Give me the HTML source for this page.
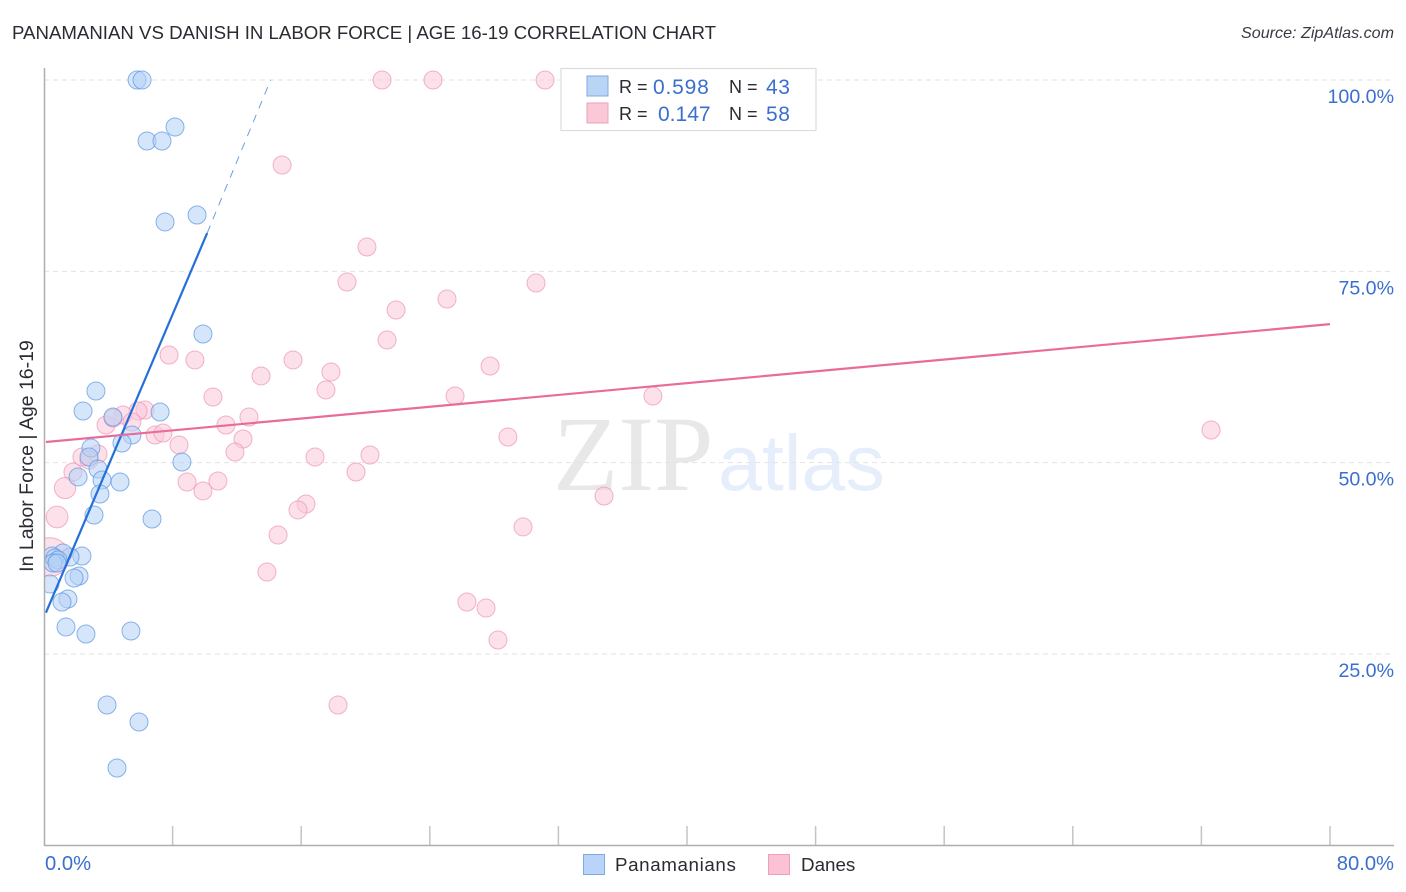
<!DOCTYPE html>
<html lang="en">
<head>
<meta charset="utf-8">
<title>Panamanian vs Danish in Labor Force | Age 16-19 Correlation Chart</title>
<style>
html,body{margin:0;padding:0;background:#fff;width:1406px;height:892px;overflow:hidden}
svg{display:block;font-family:"Liberation Sans",sans-serif}
</style>
</head>
<body>
<svg id="chart" xmlns="http://www.w3.org/2000/svg" width="1406" height="892" viewBox="0 0 1406 892">
  <defs>
    <clipPath id="plot-clip"><rect x="45" y="60" width="1349" height="785"></rect></clipPath>
  </defs>
  <rect x="0" y="0" width="1406" height="892" fill="#ffffff"></rect>

  <text x="12" y="39" font-size="18.65" fill="#2b2b33">PANAMANIAN VS DANISH IN LABOR FORCE | AGE 16-19 CORRELATION CHART</text>
  <text x="1394" y="38" font-size="16.1" font-style="italic" text-anchor="end" fill="#3a3a44">Source: ZipAtlas.com</text>

  <g>
    <text x="553" y="490" font-family="'Liberation Serif',serif" font-size="107" fill="#e8e8e8">ZIP</text>
    <text x="718" y="490" font-size="79" fill="#e6eefb">atlas</text>
  </g>

  <g id="grid"></g>
  <g id="points" clip-path="url(#plot-clip)"></g>
  <g id="trends"></g>

  <line x1="44.5" y1="68" x2="44.5" y2="846" stroke="#aeaeae" stroke-width="1.5"></line>
  <line x1="44" y1="845.5" x2="1394" y2="845.5" stroke="#aeaeae" stroke-width="1.5"></line>
  <g id="xticks"></g>
  <g id="ylabels"></g>
  <g id="xlabels"></g>

  <text transform="translate(33 456) rotate(-90)" font-size="19.5" text-anchor="middle" fill="#2b2b33">In Labor Force | Age 16-19</text>

  <g>
    <rect x="561" y="68.5" width="255" height="62" fill="#ffffff" stroke="#dcdcdc" stroke-width="1.2"></rect>
    <rect x="587" y="76" width="21" height="20" fill="#b9d4f5" stroke="#7eaae2" stroke-width="1"></rect>
    <rect x="587" y="103" width="21" height="20" fill="#fbc8d8" stroke="#eda0b8" stroke-width="1"></rect>
    <text x="619" y="93" font-size="18" fill="#2b2b33">R =</text>
    <text x="653" y="94" font-size="21" letter-spacing="0.8" fill="#3a6fcf">0.598</text>
    <text x="729" y="93" font-size="18" fill="#2b2b33">N =</text>
    <text x="766" y="94" font-size="21" letter-spacing="0.6" fill="#3a6fcf">43</text>
    <text x="619" y="120" font-size="18" fill="#2b2b33">R =</text>
    <text x="658" y="121" font-size="21" fill="#3a6fcf">0.147</text>
    <text x="729" y="120" font-size="18" fill="#2b2b33">N =</text>
    <text x="766" y="121" font-size="21" letter-spacing="0.6" fill="#3a6fcf">58</text>
  </g>

  <g>
    <rect x="583.5" y="854.5" width="21" height="20" fill="#b9d4f8" stroke="#7eaae2" stroke-width="1"></rect>
    <text x="615" y="871" font-size="18.8" letter-spacing="0.6" fill="#2b2b33">Panamanians</text>
    <rect x="768.5" y="854.5" width="21" height="20" fill="#fbc2d6" stroke="#eda0b8" stroke-width="1"></rect>
    <text x="801" y="871" font-size="18.8" fill="#2b2b33">Danes</text>
  </g>
</svg>
<script>
const yTickValues = [25, 50, 75, 100];
const yTickLabels = ["25.0%", "50.0%", "75.0%", "100.0%"];
const xTickValues = [0, 8, 16, 24, 32, 40, 48, 56, 64, 72, 80];
const xEndLabels = ["0.0%", "80.0%"];

const panamaniansX = [5.79,6.10,6.41,7.34,8.15,7.53,9.52,9.89,3.23,2.43,4.29,7.22,5.47,4.85,2.92,2.80,8.58,3.36,3.61,2.12,4.73,3.48,3.11,6.72,2.36,1.62,1.18,0.50,0.68,0.87,0.56,0.81,0.37,2.18,1.87,1.49,1.12,1.37,2.61,5.41,3.92,5.91,4.54];
const panamaniansY = [100,100,92.03,92.03,93.86,81.45,82.36,66.81,59.36,56.75,55.96,56.62,53.61,52.57,51.91,50.74,50.08,49.17,47.73,48.13,47.47,45.90,43.16,42.64,37.80,37.67,38.2,37.8,37.54,37.28,36.89,36.89,34.14,35.19,34.93,32.18,31.79,28.52,27.61,28.0,18.33,16.11,10.10];

const danesX = [21.03,24.20,31.17,14.81,20.09,18.85,30.61,25.07,21.90,21.34,27.75,7.78,9.39,15.49,13.50,17.85,17.54,10.51,25.57,37.88,72.6,12.75,11.32,6.28,5.85,4.91,3.86,5.47,6.91,7.40,8.40,12.38,11.88,28.86,20.28,16.86,19.41,3.36,2.36,2.80,1.80,1.31,8.90,9.89,10.82,34.84,16.30,15.80,14.56,29.80,0.81,13.87,26.31,27.5,28.24,18.29,0.37,4.29];
const danesY = [100,100,100,88.89,78.18,73.6,73.47,71.38,69.95,66.03,62.63,64.07,63.42,63.42,61.33,61.85,59.5,58.58,58.71,58.71,54.27,55.96,54.92,56.88,56.75,56.23,54.92,55.31,53.61,53.87,52.31,53.09,51.39,53.35,51.0,50.74,48.78,51.13,50.74,50.35,48.78,46.69,47.47,46.3,47.6,45.64,44.6,43.82,40.55,41.6,42.9,35.71,31.79,31.0,26.83,18.33,37.67,55.83];
const danesWeight = [1,1,1,1,1,1,1,1,1,1,1,1,1,1,1,1,1,1,1,1,1,1,1,1,1,1,1,1,1,1,1,1,1,1,1,1,1,1,1,1,1,1.4,1,1,1,1,1,1,1,1,1.45,1,1,1,1,1,4.6,1];

const panamaniansTrendX = [0.12, 10.15];
const panamaniansTrendY = [30.4, 80.0];
const panamaniansDashX = [10.15, 14.1];
const panamaniansDashY = [80.0, 100.0];
const danesTrendX = [0.12, 80];
const danesTrendY = [52.7, 68.1];

const SVG_NS = "http://www.w3.org/2000/svg";
const xScale = v => 44 + v * (1286 / 80);
const yScale = v => 845.3 - v * 7.653;
const byId = id => document.getElementById(id);

function makeEl(tag, attrs) {
  const el = document.createElementNS(SVG_NS, tag);
  for (const k in attrs) el.setAttribute(k, attrs[k]);
  return el;
}

yTickValues.forEach((v, i) => {
  const line = makeEl("line", {x1: 44, x2: 1394, y1: yScale(v), y2: yScale(v), stroke: "#e2e2e2", "stroke-width": 1, "stroke-dasharray": "5 4"});
  
  
  byId("grid").appendChild(line);
  const label = makeEl("text", {x: 1394, y: yScale(v) + 23, "font-size": 19.6, "text-anchor": "end", fill: "#3a6fcf"});
  
  
  label.textContent = yTickLabels[i];
  byId("ylabels").appendChild(label);
});

xTickValues.forEach(v => {
  if (v === 0) return;
  const tick = makeEl("line", {x1: xScale(v), x2: xScale(v), y1: 826, y2: 845, stroke: "#c4c4c4", "stroke-width": 1.5});
  
  
  byId("xticks").appendChild(tick);
});

const x0Label = makeEl("text", {x: 45, y: 870, "font-size": 20.2, fill: "#3a6fcf"});


x0Label.textContent = xEndLabels[0];
byId("xlabels").appendChild(x0Label);
const x1Label = makeEl("text", {x: 1394, y: 870, "font-size": 20.2, "text-anchor": "end", fill: "#3a6fcf"});


x1Label.textContent = xEndLabels[1];
byId("xlabels").appendChild(x1Label);

danesX.forEach((x, i) => {
  const c = makeEl("circle", {cx: xScale(x), cy: yScale(danesY[i]), r: 9 * Math.sqrt(danesWeight[i]), fill: "#fbc8d9", "fill-opacity": 0.55, stroke: "#ec94b0", "stroke-opacity": 0.7, "stroke-width": 1});
  
  
  byId("points").appendChild(c);
});

panamaniansX.forEach((x, i) => {
  const c = makeEl("circle", {cx: xScale(x), cy: yScale(panamaniansY[i]), r: 9, fill: "#b4d1f6", "fill-opacity": 0.55, stroke: "#5a94e0", "stroke-opacity": 0.7, "stroke-width": 1});
  
  
  byId("points").appendChild(c);
});

const blueTrend = makeEl("line", {x1: xScale(panamaniansTrendX[0]), y1: yScale(panamaniansTrendY[0]), x2: xScale(panamaniansTrendX[1]), y2: yScale(panamaniansTrendY[1]), stroke: "#2470d8", "stroke-width": 2.2});


byId("trends").appendChild(blueTrend);

const blueDash = makeEl("line", {x1: xScale(panamaniansDashX[0]), y1: yScale(panamaniansDashY[0]), x2: xScale(panamaniansDashX[1]), y2: yScale(panamaniansDashY[1]), stroke: "#6f9bdc", "stroke-width": 1, "stroke-dasharray": "8 7"});


byId("trends").appendChild(blueDash);

const pinkTrend = makeEl("line", {x1: xScale(danesTrendX[0]), y1: yScale(danesTrendY[0]), x2: xScale(danesTrendX[1]), y2: yScale(danesTrendY[1]), stroke: "#ea6b9b", "stroke-width": 2.2});


byId("trends").appendChild(pinkTrend);
</script>
</body>
</html>
